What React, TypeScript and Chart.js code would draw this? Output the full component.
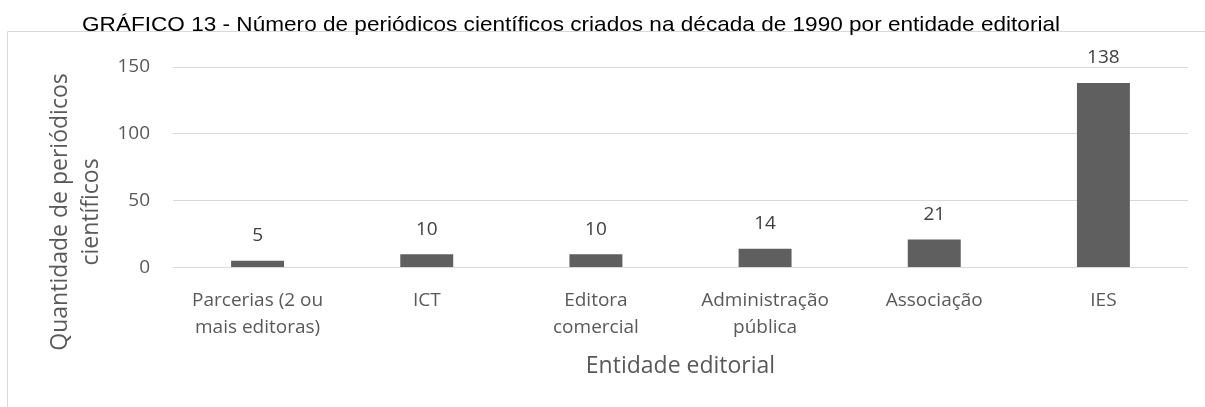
import React, { useEffect, useRef } from "react";
import { Chart, registerables } from "chart.js";

Chart.register(...registerables);

const TITLE = "GRÁFICO 13 - Número de periódicos científicos criados na década de 1990 por entidade editorial";
const CATEGORIES: string[][] = [
  ["Parcerias (2 ou", "mais editoras)"],
  ["ICT"],
  ["Editora", "comercial"],
  ["Administração", "pública"],
  ["Associação"],
  ["IES"],
];
const VALUES: number[] = [5, 10, 10, 14, 21, 138];
const Y_TICKS: number[] = [0, 50, 100, 150];
const Y_TITLE: string[] = ["Quantidade de periódicos", "científicos"];
const X_TITLE = "Entidade editorial";

const SANS = "'Open Sans', 'Noto Sans', sans-serif";
const TICK_SIZE = 19;
const AXIS_TITLE_SIZE = 23;

const decorPlugin = {
  id: "decor",
  beforeDraw(chart: any) {
    const { ctx } = chart;
    ctx.save();
    ctx.strokeStyle = "#d9d9d9";
    ctx.lineWidth = 1;
    ctx.beginPath();
    ctx.moveTo(7.5, 500);
    ctx.lineTo(7.5, 31.5);
    ctx.lineTo(1300, 31.5);
    ctx.stroke();
    ctx.restore();
  },
  afterDraw(chart: any) {
    const { ctx } = chart;
    ctx.save();
    // chart title, fitted to the reference width
    ctx.fillStyle = "#000000";
    ctx.font = "21px 'Liberation Sans', Arial, sans-serif";
    ctx.textAlign = "center";
    ctx.textBaseline = "alphabetic";
    const w = ctx.measureText(TITLE).width;
    ctx.translate(571, 30.5);
    ctx.scale(978 / w, 1);
    ctx.fillText(TITLE, 0, 0);
    ctx.restore();

    // y axis title
    ctx.save();
    ctx.fillStyle = "#595959";
    ctx.font = `${AXIS_TITLE_SIZE}px ${SANS}`;
    ctx.translate(60, 212);
    ctx.rotate(-Math.PI / 2);
    ctx.textAlign = "center";
    ctx.textBaseline = "middle";
    Y_TITLE.forEach((line, i) => ctx.fillText(line, 0, i * 31));
    ctx.restore();

    // data labels
    const meta = chart.getDatasetMeta(0);
    ctx.save();
    ctx.fillStyle = "#404040";
    ctx.font = `${TICK_SIZE}px ${SANS}`;
    ctx.textAlign = "center";
    ctx.textBaseline = "middle";
    meta.data.forEach((bar: any, i: number) => {
      ctx.fillText(String(VALUES[i]), bar.x, bar.y - 25);
    });
    ctx.restore();
  },
};

export default function App() {
  const ref = useRef<HTMLCanvasElement | null>(null);
  useEffect(() => {
    if (!ref.current) return;
    const chart = new Chart(ref.current, {
      type: "bar",
      data: {
        labels: CATEGORIES,
        datasets: [
          {
            data: VALUES,
            backgroundColor: "#5f5f5f",
            borderWidth: 0,
            categoryPercentage: 1,
            barPercentage: 0.313,
          },
        ],
      },
      options: {
        responsive: false,
        animation: false,
        devicePixelRatio: 1,
        layout: { padding: { left: 0, top: 67, right: 17, bottom: 0 } },
        plugins: {
          legend: { display: false },
          tooltip: { enabled: false },
          title: { display: false },
        },
        scales: {
          x: {
            grid: { display: false, drawTicks: false },
            border: { display: false },
            ticks: {
              color: "#595959",
              font: { family: SANS, size: TICK_SIZE, lineHeight: 27 / TICK_SIZE },
              padding: 20,
              maxRotation: 0,
              autoSkip: false,
            },
            title: {
              display: true,
              text: X_TITLE,
              color: "#595959",
              font: { family: SANS, size: AXIS_TITLE_SIZE, lineHeight: 1.2 },
              padding: { top: 0, bottom: 40.3 - (AXIS_TITLE_SIZE * 1.2) / 2 },
            },
            afterFit(scale: any) {
              scale.height = 407 - 267.5;
            },
          },
          y: {
            min: 0,
            max: 150,
            afterBuildTicks(scale: any) {
              scale.ticks = Y_TICKS.map((v) => ({ value: v }));
            },
            grid: { color: "#d9d9d9", lineWidth: 1, drawTicks: false },
            border: { display: false },
            ticks: {
              color: "#595959",
              font: { family: SANS, size: TICK_SIZE },
              padding: 23,
            },
            afterFit(scale: any) {
              scale.width = 173;
            },
          },
        },
      },
      plugins: [decorPlugin],
    });
    return () => chart.destroy();
  }, []);
  return (
    <div style={{ position: "absolute", left: 0, top: 0, width: 1205, height: 407, background: "#ffffff" }}>
      <canvas ref={ref} width={1205} height={407} />
    </div>
  );
}
